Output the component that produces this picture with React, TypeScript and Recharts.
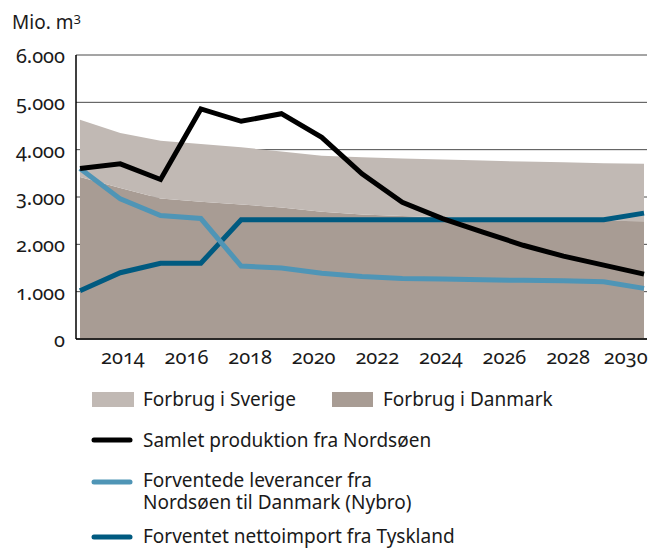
import React from 'react';
import { ComposedChart, Area, Line, XAxis, YAxis, CartesianGrid } from 'recharts';

// step index of each plotted point (15 evenly spaced points)
const steps = [0, 1, 2, 3, 4, 5, 6, 7, 8, 9, 10, 11, 12, 13, 14];
const forbrugDanmark = [3420, 3190, 2970, 2900, 2840, 2780, 2690, 2630, 2600, 2570, 2550, 2525, 2510, 2500, 2490];
const forbrugSverige = [1210, 1160, 1220, 1220, 1210, 1180, 1180, 1210, 1215, 1220, 1220, 1225, 1225, 1215, 1210];
const samletProduktion = [3600, 3700, 3370, 4860, 4600, 4760, 4260, 3490, 2890, 2545, 2260, 1980, 1750, 1560, 1370];
const nybroLeverancer = [3600, 2960, 2610, 2545, 1540, 1500, 1390, 1320, 1280, 1265, 1250, 1240, 1230, 1210, 1070];
const tysklandImport = [1020, 1400, 1600, 1600, 2520, 2520, 2520, 2520, 2520, 2520, 2520, 2520, 2520, 2520, 2660];
const yearTicks = [2014, 2016, 2018, 2020, 2022, 2024, 2026, 2028, 2030];
const valueTicks = [0, 1000, 2000, 3000, 4000, 5000, 6000];

// the 15 points run from the first to the last year on the axis
const FIRST_YEAR = 2012.65;
const LAST_YEAR = 2030.39;
const yearToStep = (y: number) => ((y - FIRST_YEAR) / (LAST_YEAR - FIRST_YEAR)) * (steps.length - 1);
const stepToYear = (s: number) => Math.round(FIRST_YEAR + (s / (steps.length - 1)) * (LAST_YEAR - FIRST_YEAR));
const stepTicks = yearTicks.map(yearToStep);

const data = steps.map((s, i) => ({
  step: s,
  danmark: forbrugDanmark[i],
  sverige: forbrugSverige[i],
  samlet: samletProduktion[i],
  nybro: nybroLeverancer[i],
  tyskland: tysklandImport[i],
}));

const FONT = '"Noto Sans", "Open Sans", sans-serif';
const C_SVERIGE = '#c1b9b4';
const C_DANMARK = '#a89c94';
const C_BLACK = '#000000';
const C_LIGHT = '#4f95b6';
const C_DARK = '#005a80';
const TEXT = '#1a1a1a';

const numStyle: React.CSSProperties = { fontFamily: FONT, fontFeatureSettings: '"onum"' };

const fmt = (v: number) => (v === 0 ? '0' : `${v / 1000}.000`);

const YTick = (props: any) => {
  const { x, y, payload } = props;
  return (
    <text x={x} y={y + 8} textAnchor="end" fill={TEXT} fontSize={20} style={numStyle}>
      {fmt(payload.value)}
    </text>
  );
};

const XTick = (props: any) => {
  const { x, y, payload } = props;
  const yr = stepToYear(payload.value);
  const last = yr === yearTicks[yearTicks.length - 1];
  return (
    <text x={last ? x + 16 : x} y={y + 25} textAnchor={last ? 'end' : 'middle'} fill={TEXT} fontSize={20} style={numStyle}>
      {yr}
    </text>
  );
};

const legendText: React.CSSProperties = {
  position: 'absolute',
  fontFamily: FONT,
  fontSize: 19,
  lineHeight: '20px',
  color: TEXT,
  whiteSpace: 'nowrap',
};

const LineSwatch = ({ left, top, color }: { left: number; top: number; color: string }) => (
  <svg style={{ position: 'absolute', left, top: top - 5 }} width={42} height={10}>
    <line x1={3} y1={5} x2={39} y2={5} stroke={color} strokeWidth={5} strokeLinecap="round" />
  </svg>
);

export default function App() {
  return (
    <div style={{ position: 'absolute', left: 0, top: 0, width: 651, height: 549, background: '#fff' }}>
      <div style={{ ...legendText, left: 12, top: 12, fontSize: 19 }}>
        Mio. m<sup style={{ fontSize: 13, verticalAlign: 'top', position: 'relative', top: -3 }}>3</sup>
      </div>
      <ComposedChart
        width={651}
        height={380}
        data={data}
        margin={{ top: 55, right: 4, bottom: 0, left: 0 }}
        style={{ fontFamily: FONT }}
      >
        <CartesianGrid vertical={false} stroke="#4a4a4a" strokeWidth={1} />
        <XAxis
          dataKey="step"
          type="number"
          domain={[0, 14]}
          padding={{ left: 4, right: 3 }}
          ticks={stepTicks}
          interval={0}
          height={41}
          axisLine={{ stroke: '#000', strokeWidth: 1.5 }}
          tickLine={false}
          tickSize={0}
          tickMargin={0}
          tick={<XTick />}
        />
        <YAxis
          width={76}
          domain={[0, 6000]}
          ticks={valueTicks}
          interval={0}
          axisLine={{ stroke: '#000', strokeWidth: 1.5 }}
          tickLine={false}
          tickSize={0}
          tickMargin={11}
          tick={<YTick />}
        />
        <Area type="linear" dataKey="danmark" stackId="a" fill={C_DANMARK} fillOpacity={1} stroke="none" isAnimationActive={false} />
        <Area type="linear" dataKey="sverige" stackId="a" fill={C_SVERIGE} fillOpacity={1} stroke="none" isAnimationActive={false} />
        <Line type="linear" dataKey="tyskland" stroke={C_DARK} strokeWidth={5} dot={false} isAnimationActive={false} />
        <Line type="linear" dataKey="nybro" stroke={C_LIGHT} strokeWidth={5} dot={false} isAnimationActive={false} />
        <Line type="linear" dataKey="samlet" stroke={C_BLACK} strokeWidth={5} dot={false} isAnimationActive={false} />
      </ComposedChart>

      <div style={{ position: 'absolute', left: 92, top: 392, width: 42, height: 15, background: C_SVERIGE }} />
      <div style={{ ...legendText, left: 143, top: 389 }}>Forbrug i Sverige</div>
      <div style={{ position: 'absolute', left: 332, top: 392, width: 41, height: 15, background: C_DANMARK }} />
      <div style={{ ...legendText, left: 383, top: 389 }}>Forbrug i Danmark</div>

      <LineSwatch left={91} top={440} color={C_BLACK} />
      <div style={{ ...legendText, left: 143, top: 430 }}>Samlet produktion fra Nordsøen</div>

      <LineSwatch left={91} top={482} color={C_LIGHT} />
      <div style={{ ...legendText, left: 143, top: 470 }}>Forventede leverancer fra</div>
      <div style={{ ...legendText, left: 143, top: 492 }}>Nordsøen til Danmark (Nybro)</div>

      <LineSwatch left={91} top={537} color={C_DARK} />
      <div style={{ ...legendText, left: 143, top: 526 }}>Forventet nettoimport fra Tyskland</div>
    </div>
  );
}
